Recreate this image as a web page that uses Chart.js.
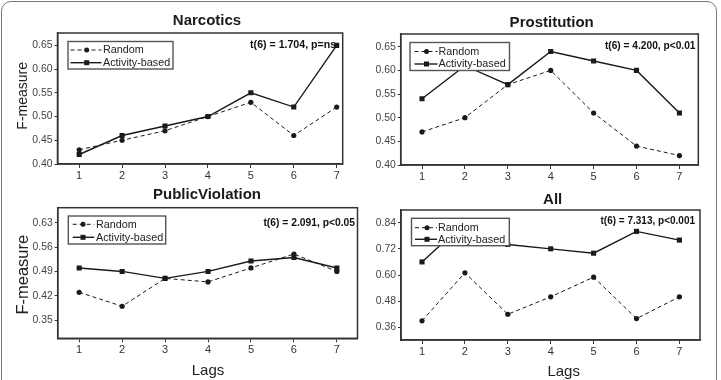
<!DOCTYPE html>
<html>
<head>
<meta charset="utf-8">
<script src="https://cdn.jsdelivr.net/npm/chart.js@4.4.1/dist/chart.umd.min.js"></script>
<style>
  html, body { margin: 0; padding: 0; background: #fff; overflow: hidden; }
  #wrap { position: relative; width: 721px; height: 380px; overflow: hidden; }
  #frame { position: absolute; left: 1px; top: 1px; width: 716px; height: 420px;
           border: 1.5px solid #777; border-radius: 10px; box-sizing: border-box; }
  canvas { position: absolute; left: 0; top: 0; }
</style>
</head>
<body>
<div id="wrap">
  <div id="frame"></div>
  <canvas id="c1" width="721" height="380"></canvas>
  <canvas id="c2" width="721" height="380"></canvas>
  <canvas id="c3" width="721" height="380"></canvas>
  <canvas id="c4" width="721" height="380"></canvas>
</div>
<script>
// ---------------- DATA ----------------
const lags = [1, 2, 3, 4, 5, 6, 7];
const seriesNames = ['Random', 'Activity-based'];

const narcoticsRandom   = [0.43, 0.45, 0.47, 0.50, 0.53, 0.46, 0.52];
const narcoticsActivity = [0.42, 0.46, 0.48, 0.50, 0.55, 0.52, 0.65];

const prostitutionRandom   = [0.47, 0.50, 0.57, 0.60, 0.51, 0.44, 0.42];
const prostitutionActivity = [0.54, 0.61, 0.57, 0.64, 0.62, 0.60, 0.51];

const publicRandom   = [0.43, 0.39, 0.47, 0.46, 0.50, 0.54, 0.49];
const publicActivity = [0.50, 0.49, 0.47, 0.49, 0.52, 0.53, 0.50];

const allRandom   = [0.39, 0.61, 0.42, 0.50, 0.59, 0.40, 0.50];
const allActivity = [0.66, 0.84, 0.74, 0.72, 0.70, 0.80, 0.76];

const ticksNarcotics    = [0.40, 0.45, 0.50, 0.55, 0.60, 0.65];
const ticksProstitution = [0.40, 0.45, 0.50, 0.55, 0.60, 0.65];
const ticksPublic       = [0.35, 0.42, 0.49, 0.56, 0.63];
const ticksAll          = [0.36, 0.48, 0.60, 0.72, 0.84];

const titles = ['Narcotics', 'Prostitution', 'PublicViolation', 'All'];
const stats = ['t(6) = 1.704, p=ns.', 't(6) = 4.200, p<0.01', 't(6) = 2.091, p<0.05', 't(6) = 7.313, p<0.001'];
const yLabel = 'F-measure';
const xLabel = 'Lags';

// ---------------- HELPERS ----------------
const FONT = "'Liberation Sans', Arial, Helvetica, sans-serif";
const INK = '#1a1a1a';

function pts(vals) { return lags.map((x, i) => ({ x: x, y: vals[i] })); }

function drawMarker(ctx, style, x, y) {
  ctx.beginPath();
  if (style === 'circle') { ctx.arc(x, y, 2.5, 0, Math.PI * 2); }
  else { ctx.rect(x - 2.5, y - 2.5, 5, 5); }
  ctx.fill();
}

const decor = {
  id: 'decor',
  afterDraw(chart, args, o) {
    const ctx = chart.ctx, a = chart.chartArea;
    ctx.save();
    // plot frame
    ctx.setLineDash([]);
    ctx.strokeStyle = '#333'; ctx.lineWidth = 1.5;
    ctx.strokeRect(a.left, a.top, a.right - a.left, a.bottom - a.top);
    // legend
    const L = o.legend;
    ctx.fillStyle = '#fff';
    ctx.fillRect(L.x1, L.y1, L.x2 - L.x1, L.y2 - L.y1);
    ctx.strokeStyle = '#555'; ctx.lineWidth = 1.4;
    ctx.strokeRect(L.x1, L.y1, L.x2 - L.x1, L.y2 - L.y1);
    chart.data.datasets.forEach((ds, i) => {
      const y = L.rows[i];
      ctx.strokeStyle = INK; ctx.fillStyle = INK;
      ctx.lineWidth = ds.borderWidth;
      ctx.setLineDash(ds.borderDash || []);
      ctx.beginPath(); ctx.moveTo(L.lx1, y); ctx.lineTo(L.lx2, y); ctx.stroke();
      ctx.setLineDash([]);
      drawMarker(ctx, ds.pointStyle, L.mx, y);
      ctx.fillStyle = '#222';
      ctx.font = '10.8px ' + FONT;
      ctx.textAlign = 'left'; ctx.textBaseline = 'middle';
      ctx.fillText(ds.label, L.tx, y + 0.5);
    });
    // statistic annotation
    ctx.fillStyle = '#111';
    ctx.font = 'bold ' + o.stat.size + 'px ' + FONT;
    ctx.textAlign = 'right'; ctx.textBaseline = 'alphabetic';
    ctx.fillText(o.stat.text, o.stat.x, o.stat.y);
    // panel title
    ctx.fillStyle = '#1a1a1a';
    ctx.font = 'bold 15px ' + FONT;
    ctx.textAlign = 'center';
    ctx.fillText(o.title.text, o.title.x, o.title.y);
    // x label
    if (o.xlab) {
      ctx.fillStyle = '#222';
      ctx.font = o.xlab.size + 'px ' + FONT;
      ctx.textAlign = 'center';
      ctx.fillText(o.xlab.text, o.xlab.x, o.xlab.y);
    }
    // y label
    if (o.ylab) {
      ctx.save();
      ctx.translate(o.ylab.x, o.ylab.y);
      ctx.rotate(-Math.PI / 2);
      ctx.fillStyle = '#222';
      ctx.font = o.ylab.size + 'px ' + FONT;
      ctx.textAlign = 'center'; ctx.textBaseline = 'alphabetic';
      ctx.fillText(o.ylab.text, 0, 0);
      ctx.restore();
    }
    ctx.restore();
  }
};

function makeChart(id, cfg) {
  const datasets = [
    { label: seriesNames[0], data: pts(cfg.random), borderColor: INK, backgroundColor: INK,
      borderWidth: 1, borderDash: [4, 3], pointStyle: 'circle', pointRadius: 2.6,
      pointBorderWidth: 0, pointBackgroundColor: INK, tension: 0, fill: false },
    { label: seriesNames[1], data: pts(cfg.activity), borderColor: INK, backgroundColor: INK,
      borderWidth: 1.4, pointStyle: 'rect', pointRadius: 3.6,
      pointBorderWidth: 0, pointBackgroundColor: INK, tension: 0, fill: false }
  ];
  const area = cfg.area; // [left, top, right, bottom]
  const yW = 40, xH = 25;
  return new Chart(document.getElementById(id), {
    type: 'line',
    data: { datasets },
    options: {
      responsive: false, animation: false, devicePixelRatio: 1,
      events: [],
      layout: { padding: { left: area[0] - yW, top: area[1], right: 721 - area[2], bottom: 380 - area[3] - xH } },
      plugins: { legend: { display: false }, tooltip: { enabled: false }, title: { display: false },
                 decor: cfg.decor },
      scales: {
        x: {
          type: 'linear', min: cfg.xRange[0], max: cfg.xRange[1],
          afterBuildTicks: s => { s.ticks = lags.map(v => ({ value: v })); },
          afterFit: s => { s.height = xH; },
          grid: { display: true, drawOnChartArea: false, drawTicks: true, tickLength: 4, color: '#333', lineWidth: 1 },
          border: { display: true, color: '#333', width: 1.5 },
          ticks: { color: '#333', padding: 1, font: { family: FONT, size: 11 }, callback: v => String(v) }
        },
        y: {
          type: 'linear', min: cfg.yRange[0], max: cfg.yRange[1],
          afterBuildTicks: s => { s.ticks = cfg.yTicks.map(v => ({ value: v })); },
          afterFit: s => { s.width = yW; },
          grid: { display: true, drawOnChartArea: false, drawTicks: true, tickLength: 3, color: '#333', lineWidth: 1 },
          border: { display: true, color: '#333', width: 1.5 },
          ticks: { color: '#444', padding: 2, font: { family: FONT, size: 10.4 }, callback: v => Number(v).toFixed(2) }
        }
      }
    },
    plugins: [decor]
  });
}

makeChart('c1', {
  random: narcoticsRandom, activity: narcoticsActivity, yTicks: ticksNarcotics,
  area: [57.5, 33, 342.7, 164], xRange: [0.495, 7.14], yRange: [0.40, 0.676],
  decor: {
    legend: { x1: 68, y1: 41.5, x2: 173, y2: 69, rows: [50, 62.7], lx1: 70.5, lx2: 101.5, mx: 86.7, tx: 103 },
    stat: { text: stats[0], x: 339, y: 48, size: 10.6 },
    title: { text: titles[0], x: 207, y: 24.8 },
    ylab: { text: yLabel, x: 27.3, y: 95.8, size: 14 }
  }
});

makeChart('c2', {
  random: prostitutionRandom, activity: prostitutionActivity, yTicks: ticksProstitution,
  area: [400.7, 34, 698.3, 165], xRange: [0.503, 7.44], yRange: [0.40, 0.677],
  decor: {
    legend: { x1: 410, y1: 42.5, x2: 509.5, y2: 70.5, rows: [51.5, 64], lx1: 414.5, lx2: 437.5, mx: 426.5, tx: 438.5 },
    stat: { text: stats[1], x: 695.5, y: 49, size: 10.2 },
    title: { text: titles[1], x: 551.7, y: 27.3 }
  }
});

makeChart('c3', {
  random: publicRandom, activity: publicActivity, yTicks: ticksPublic,
  area: [57.7, 207.7, 357.5, 338.3], xRange: [0.5, 7.48], yRange: [0.298, 0.673],
  decor: {
    legend: { x1: 68.3, y1: 216, x2: 165.7, y2: 244, rows: [224.3, 237.3], lx1: 72.7, lx2: 94.3, mx: 83, tx: 96 },
    stat: { text: stats[2], x: 355, y: 225.5, size: 10.3 },
    title: { text: titles[2], x: 207, y: 199 },
    ylab: { text: yLabel, x: 28.3, y: 274.7, size: 16.5 },
    xlab: { text: xLabel, x: 208, y: 375, size: 15 }
  }
});

makeChart('c4', {
  random: allRandom, activity: allActivity, yTicks: ticksAll,
  area: [401, 210, 700, 340], xRange: [0.51, 7.48], yRange: [0.302, 0.898],
  decor: {
    legend: { x1: 411.5, y1: 218.3, x2: 509.3, y2: 245.7, rows: [227.7, 239.3], lx1: 415, lx2: 437, mx: 427, tx: 438 },
    stat: { text: stats[3], x: 695, y: 223.5, size: 10 },
    title: { text: titles[3], x: 552.7, y: 204 },
    xlab: { text: xLabel, x: 563.7, y: 376, size: 15 }
  }
});
</script>
</body>
</html>
